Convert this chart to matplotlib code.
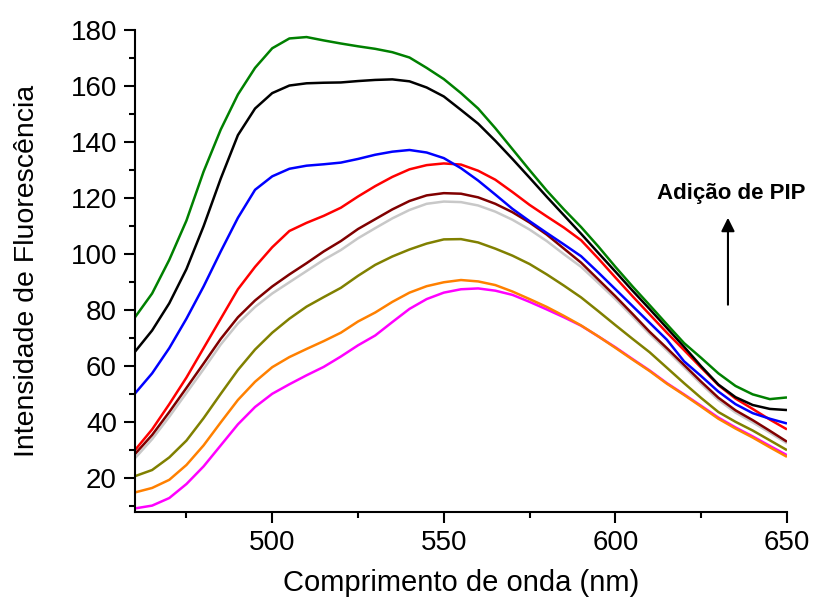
import numpy as np
import matplotlib
matplotlib.use("Agg")
import matplotlib.pyplot as plt

plt.rcParams['font.family'] = ['Liberation Sans', 'DejaVu Sans']

wavelength = np.arange(460, 651, 5)

green = [77.5, 86, 98, 112, 129.5, 144.5, 157, 166.5, 173.5, 177, 177.5, 176.3, 175.2, 174.2, 173.3, 172.1,
         170.2, 166.5, 162.5, 157.5, 152, 145, 137.5, 130, 122.7, 116, 109.7, 102.8, 95.5, 88.5, 81.8, 75,
         68.3, 63, 57.5, 53, 50, 48.3, 48.9]
black = [65.2, 72.8, 82.5, 94.7, 110, 127, 142.5, 152, 157.5, 160.2, 161, 161.2, 161.3, 161.8, 162.2, 162.4,
         161.7, 159.5, 156.3, 151.5, 146.6, 140.5, 134, 127.3, 120.5, 113.9, 107.3, 100.5, 93.8, 87, 80.4, 73.7,
         67, 60, 53.5, 49, 46.2, 44.8, 44.4]
blue = [50.3, 57.5, 66.5, 77, 88.5, 101, 113, 123, 127.8, 130.5, 131.6, 132.1, 132.7, 134, 135.5, 136.6,
        137.2, 136.3, 134.3, 130.7, 126.3, 121.3, 116.2, 111.8, 107.6, 103.5, 99.3, 93.5, 87.5, 81.5, 75.5, 69.5,
        61.8, 56.5, 51, 46.5, 43.3, 41.3, 39.6]
red = [30.1, 37.5, 46.5, 56, 66.5, 77, 87.5, 95.5, 102.5, 108.3, 111.2, 113.7, 116.6, 120.6, 124.3, 127.6,
       130.3, 131.8, 132.4, 132, 129.8, 126.6, 122.2, 117.6, 113.5, 109.5, 105, 98.5, 91.7, 85, 78.5, 72,
       65.8, 59.5, 53.3, 48.5, 44.8, 41, 37.5]
maroon = [28.7, 35.5, 43.7, 52.3, 61, 69.8, 77.5, 83.5, 88.5, 92.8, 96.8, 101, 104.7, 109, 112.5, 116,
          119, 121, 121.8, 121.6, 120.3, 118, 115, 111.3, 107, 102, 97, 91, 85, 78.7, 72.3, 66.5,
          60.5, 54.5, 48.8, 44.3, 40.8, 37, 33.1]
grey = [27.2, 34, 42, 50.5, 59, 67.8, 75.3, 81.2, 86, 90, 94, 98, 101.5, 105.7, 109.3, 112.8,
        115.8, 118, 118.8, 118.6, 117.4, 115.2, 112.3, 108.8, 104.7, 100, 95.5, 89.8, 84, 77.8, 71.5, 65.7,
        59.7, 53.7, 48, 43.5, 40, 36.3, 32.5]
olive = [20.8, 23, 27.5, 33.5, 41.5, 50.2, 58.7, 66, 72, 77, 81.3, 84.7, 88, 92.3, 96.2, 99.2,
         101.7, 103.8, 105.3, 105.4, 104.2, 102, 99.5, 96.5, 92.8, 88.8, 84.6, 79.7, 74.7, 69.8, 65, 59.5,
         54, 48.7, 43.7, 40.2, 37.1, 33.6, 30.1]
orange = [15, 16.6, 19.5, 24.8, 31.8, 40, 48, 54.5, 59.7, 63.3, 66.2, 69, 72, 76, 79.2, 83,
          86.3, 88.6, 90, 90.8, 90.3, 89, 86.7, 84, 81.2, 78, 74.6, 70.7, 66.6, 62.4, 58.3, 53.8,
          49.8, 45.6, 41.3, 37.8, 34.6, 31.1, 27.7]
magenta = [9.3, 10.3, 13, 18, 24.3, 31.8, 39.3, 45.5, 50.2, 53.6, 56.8, 59.8, 63.5, 67.5, 71, 75.8,
           80.5, 84, 86.3, 87.5, 87.8, 87, 85.5, 83, 80.3, 77.5, 74.5, 70.7, 66.8, 62.6, 58.5, 54,
           50, 45.9, 41.7, 38.2, 35, 31.6, 28.3]

series = [magenta, orange, olive, grey, maroon, red, blue, black, green]
colors = ['#ff00ff', '#ff8000', '#808000', '#c8c8c8', '#800000', '#ff0000', '#0000ff', '#000000', '#008000']

xticks = [500, 550, 600, 650]
yticks = [20, 40, 60, 80, 100, 120, 140, 160, 180]

fig = plt.figure(figsize=(8.13, 6.01), dpi=100)
ax = fig.add_axes([0.166, 0.148, 0.802, 0.802])

for ys, c in zip(series, colors):
    ax.plot(wavelength, ys, color=c, lw=1.8, solid_capstyle='butt', solid_joinstyle='round')

ax.set_xlim(460, 650)
ax.set_ylim(8, 180)
ax.set_xticks(xticks)
ax.set_yticks(yticks)
ax.set_xticks(np.arange(475, 651, 50), minor=True)
ax.set_yticks(np.arange(10, 180, 20), minor=True)

for s in ['top', 'right']:
    ax.spines[s].set_visible(False)
for s in ['left', 'bottom']:
    ax.spines[s].set_linewidth(1.5)

ax.tick_params(which='major', direction='out', length=8, width=1.5, labelsize=20, pad=5)
ax.tick_params(which='minor', direction='out', length=4, width=1.5)

ax.set_xlabel('Comprimento de onda (nm)', fontsize=21, labelpad=9)
ax.set_ylabel('Intensidade de Fluorescência', fontsize=20.5, labelpad=22)

ax.annotate('', xy=(632.8, 114), xytext=(632.8, 81),
            arrowprops=dict(arrowstyle='-|>', color='black', lw=1.5, mutation_scale=20))
ax.text(633.7, 121.8, 'Adição de PIP', fontsize=16, fontweight='bold', ha='center', va='center')

fig.savefig('out.png', dpi=100)
